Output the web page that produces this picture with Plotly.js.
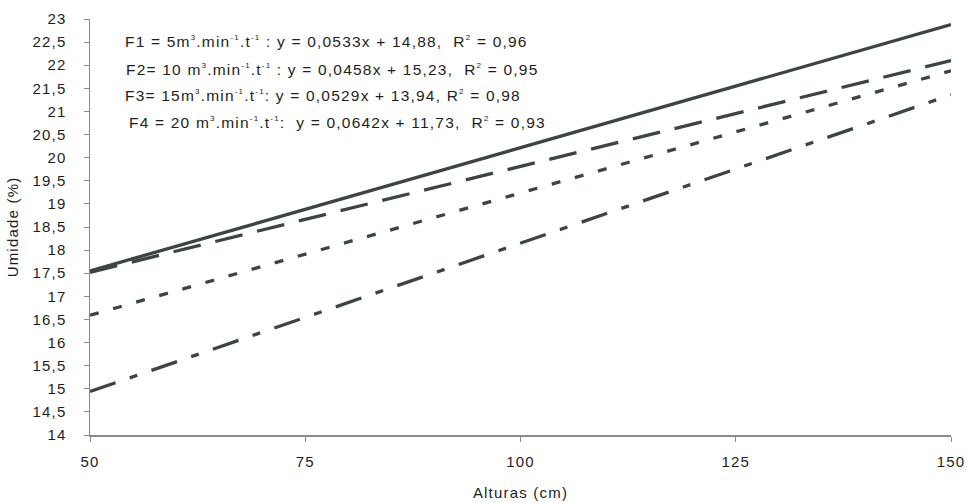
<!DOCTYPE html>
<html>
<head>
<meta charset="utf-8">
<script src="https://cdn.plot.ly/plotly-3.0.1.min.js"></script>
<style>
html,body{margin:0;padding:0;background:#fff;}
#chart{width:969px;height:503px;}
svg text{letter-spacing:1.2px;}
</style>
</head>
<body>
<div id="chart"></div>
<script>
// Data (fitted lines at the ends of the x range)
const alturas = [50, 150];
const f1 = [17.55, 22.88];
const f2 = [17.52, 22.10];
const f3 = [16.59, 21.88];
const f4 = [14.94, 21.36];

const xTickVals = [50, 75, 100, 125, 150];
const xTickText = ["50", "75", "100", "125", "150"];
const yTickVals = [14, 14.5, 15, 15.5, 16, 16.5, 17, 17.5, 18, 18.5, 19, 19.5, 20, 20.5, 21, 21.5, 22, 22.5, 23];
const yTickText = ["14", "14,5", "15", "15,5", "16", "16,5", "17", "17,5", "18", "18,5", "19", "19,5", "20", "20,5", "21", "21,5", "22", "22,5", "23"];

const s = t => "<sup><span style=\"font-size:8px\">" + t + "</span></sup>";
const equations = [
  "F1 = 5m" + s("3") + ".min" + s("-1") + ".t" + s("-1") + " : y = 0,0533x + 14,88,  R" + s("2") + " = 0,96",
  "F2= 10 m" + s("3") + ".min" + s("-1") + ".t" + s("-1") + " : y = 0,0458x + 15,23,  R" + s("2") + " = 0,95",
  "F3= 15m" + s("3") + ".min" + s("-1") + ".t" + s("-1") + ": y = 0,0529x + 13,94, R" + s("2") + " = 0,98",
  "F4 = 20 m" + s("3") + ".min" + s("-1") + ".t" + s("-1") + ":  y = 0,0642x + 11,73,  R" + s("2") + " = 0,93"
];

const lineColor = "#3b4544";
const mk = (y, dash, name) => ({
  x: alturas, y: y, type: "scatter", mode: "lines", name: name,
  line: {color: lineColor, width: 3.3, dash: dash}, hoverinfo: "skip"
});

const data = [
  mk(f1, "solid", "F1"),
  mk(f2, "28px,15px", "F2"),
  mk(f3, "9px,15px", "F3"),
  mk(f4, "27px,15px,8px,15px", "F4")
];

const FONT = "Liberation Sans, Arial, sans-serif";
const annX = [123, 124, 123, 127];
const annY = [41, 69, 95, 122];
const annotations = equations.map((t, i) => ({
  text: t, xref: "paper", yref: "paper",
  x: (annX[i] - 90) / (951 - 90), y: 1 - (annY[i] - 19) / (435 - 19),
  xanchor: "left", yanchor: "middle", showarrow: false,
  font: {family: FONT, size: 15.5, color: "#1e1e1e"}
}));

const layout = {
  width: 969, height: 503,
  margin: {l: 90, r: 18, t: 19, b: 68},
  paper_bgcolor: "#fff", plot_bgcolor: "#fff",
  showlegend: false,
  font: {family: FONT, size: 15, color: "#1e1e1e"},
  xaxis: {
    range: [50, 150], tickvals: xTickVals, ticktext: xTickText,
    showgrid: false, zeroline: false, showline: true, linecolor: "#8a8a8a", linewidth: 1.5,
    ticks: "outside", ticklen: 5, tickcolor: "#8a8a8a", tickwidth: 1,
    ticklabelstandoff: 7,
    tickfont: {size: 15, color: "#1e1e1e"},
    title: {text: "Alturas (cm)", font: {size: 15, color: "#1e1e1e"}, standoff: 19}
  },
  yaxis: {
    range: [14, 23], tickvals: yTickVals, ticktext: yTickText,
    showgrid: false, zeroline: false, showline: true, linecolor: "#8a8a8a", linewidth: 1.5,
    ticks: "outside", ticklen: 5, tickcolor: "#8a8a8a", tickwidth: 1,
    ticklabelstandoff: 14,
    tickfont: {size: 15, color: "#1e1e1e"},
    title: {text: "Umidade (%)", font: {size: 15, color: "#1e1e1e"}, standoff: 10}
  },
  annotations: annotations
};

Plotly.newPlot("chart", data, layout, {displayModeBar: false, staticPlot: true});
</script>
</body>
</html>
